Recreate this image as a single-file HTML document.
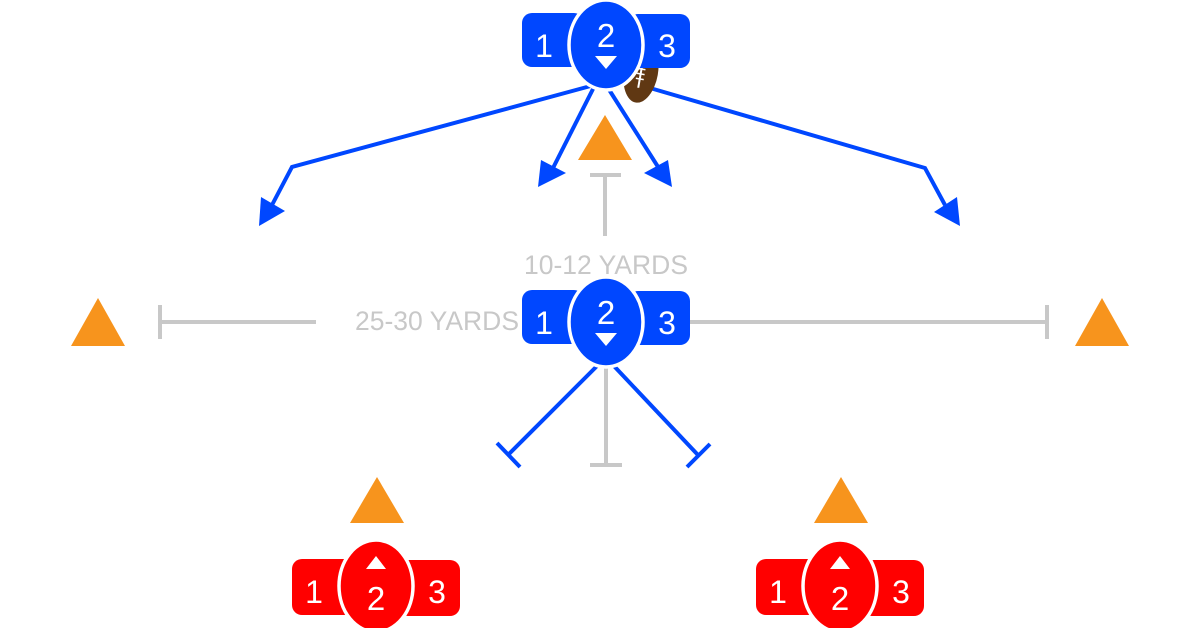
<!DOCTYPE html>
<html><head><meta charset="utf-8"><style>
html,body{margin:0;padding:0;background:#fff;width:1200px;height:628px;overflow:hidden}
svg{display:block}
text{font-family:"Liberation Sans","DejaVu Sans",sans-serif}
</style></head><body>
<svg width="1200" height="628" viewBox="0 0 1200 628" xmlns="http://www.w3.org/2000/svg">
<defs>
<g id="bp">
  <rect x="-84" y="-32" width="62" height="54" rx="10" fill="#0047FF"/>
  <rect x="22" y="-31" width="62" height="54" rx="10" fill="#0047FF"/>
  <ellipse cx="0" cy="0" rx="37" ry="45" fill="#0047FF" stroke="#fff" stroke-width="3.5"/>
  <text x="-62" y="12" font-size="32" fill="#fff" text-anchor="middle">1</text>
  <text x="0" y="2" font-size="33" fill="#fff" text-anchor="middle">2</text>
  <text x="61" y="12" font-size="32" fill="#fff" text-anchor="middle">3</text>
  <polygon points="-11,11 11,11 0,24" fill="#fff"/>
</g>
<g id="rp">
  <rect x="-84" y="-27" width="62" height="56" rx="10" fill="#FF0000"/>
  <rect x="22" y="-26" width="62" height="56" rx="10" fill="#FF0000"/>
  <ellipse cx="0" cy="0" rx="37" ry="46" fill="#FF0000" stroke="#fff" stroke-width="3.5"/>
  <text x="-62" y="17" font-size="32" fill="#fff" text-anchor="middle">1</text>
  <text x="0" y="24" font-size="33" fill="#fff" text-anchor="middle">2</text>
  <text x="61" y="17" font-size="32" fill="#fff" text-anchor="middle">3</text>
  <polygon points="-10,-17 10,-17 0,-30" fill="#fff"/>
</g>
</defs>
<g stroke="#C8C8C8" stroke-width="4" fill="none">
  <line x1="605" y1="175" x2="605" y2="236"/>
  <line x1="590" y1="175" x2="621" y2="175"/>
  <line x1="160" y1="322" x2="316" y2="322"/>
  <line x1="160" y1="305" x2="160" y2="339"/>
  <line x1="688" y1="322" x2="1047" y2="322"/>
  <line x1="1047" y1="305" x2="1047" y2="339"/>
  <line x1="606" y1="368" x2="606" y2="465"/>
  <line x1="590" y1="465" x2="622" y2="465"/>
</g>
<text x="606" y="274" font-size="26.5" fill="#C8C8C8" text-anchor="middle">10-12 YARDS</text>
<text x="437" y="330" font-size="26.5" fill="#C8C8C8" text-anchor="middle">25-30 YARDS</text>
<g stroke="#0047FF" stroke-width="4" fill="none">
  <polyline points="598,84 292,167 272,205"/>
  <line x1="595" y1="85" x2="552" y2="170"/>
  <line x1="608" y1="88" x2="660" y2="170"/>
  <polyline points="650,88 925,168 945,205"/>
  <line x1="598" y1="365" x2="508" y2="455"/>
  <line x1="497" y1="443" x2="520" y2="467"/>
  <line x1="613" y1="365" x2="698" y2="455"/>
  <line x1="710" y1="444" x2="687" y2="467"/>
</g>
<g fill="#0047FF">
  <polygon points="259,226 261,197 285,211"/>
  <polygon points="538,187 541,160 566,173"/>
  <polygon points="672,187 644,173 668,160"/>
  <polygon points="960,226 934,212 957,197"/>
</g>
<g transform="translate(641,72) rotate(10)">
  <ellipse cx="0" cy="0" rx="17" ry="31" fill="#603813"/>
  <line x1="0" y1="-14" x2="0" y2="16" stroke="#fff" stroke-width="2"/>
  <g stroke="#fff" stroke-width="1.5">
    <line x1="-4" y1="-8" x2="4" y2="-8"/><line x1="-4" y1="-3" x2="4" y2="-3"/>
    <line x1="-4" y1="2" x2="4" y2="2"/><line x1="-4" y1="7" x2="4" y2="7"/>
  </g>
</g>
<use href="#bp" x="606" y="45"/>
<use href="#bp" x="606" y="322"/>
<use href="#rp" x="376" y="586"/>
<use href="#rp" x="840" y="586"/>
<g fill="#F7941D">
  <polygon points="71,346 125,346 98,298"/>
  <polygon points="1075,346 1129,346 1102,298"/>
  <polygon points="578,160 632,160 605,115"/>
  <polygon points="350,523 404,523 377,477"/>
  <polygon points="814,523 868,523 841,477"/>
</g>
</svg>
</body></html>
